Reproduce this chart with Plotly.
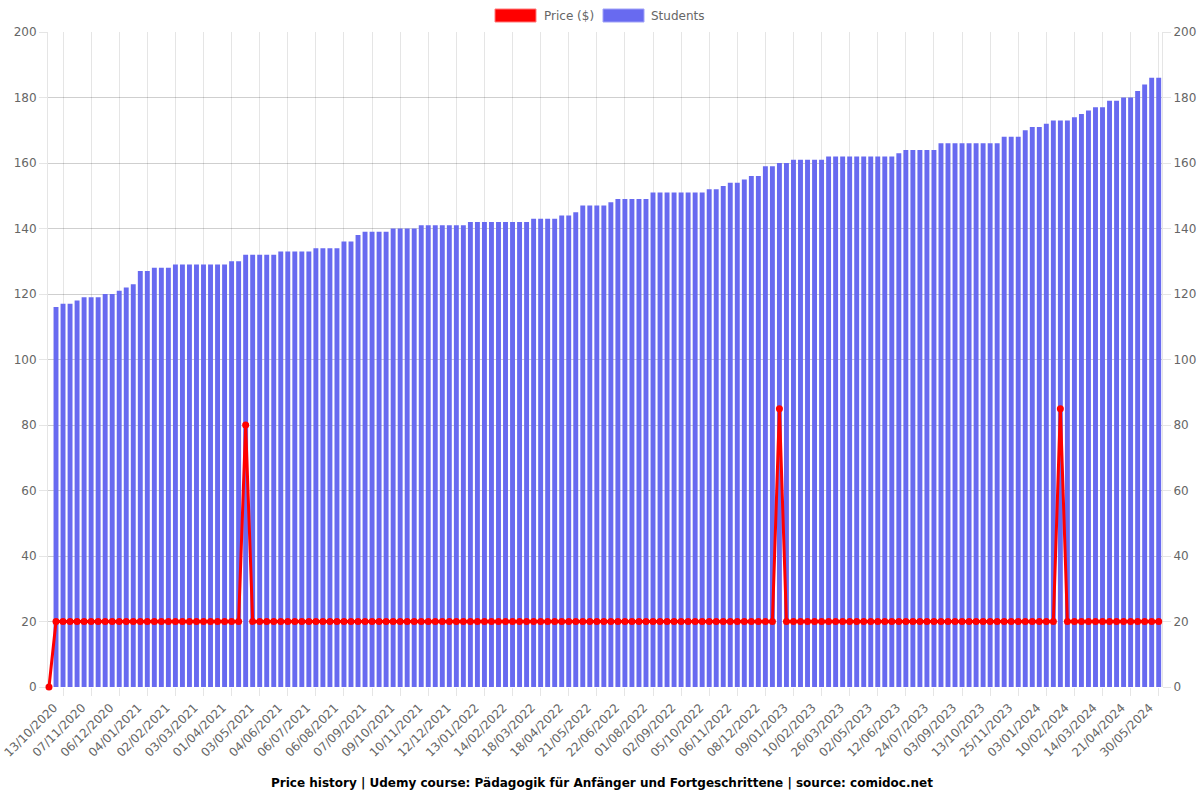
import plotly.graph_objects as go

# ---- data ----
tick_labels = [
    "13/10/2020", "07/11/2020", "06/12/2020", "04/01/2021", "02/02/2021",
    "03/03/2021", "01/04/2021", "03/05/2021", "04/06/2021", "06/07/2021",
    "06/08/2021", "07/09/2021", "09/10/2021", "10/11/2021", "12/12/2021",
    "13/01/2022", "14/02/2022", "18/03/2022", "18/04/2022", "21/05/2022",
    "22/06/2022", "01/08/2022", "02/09/2022", "05/10/2022", "06/11/2022",
    "08/12/2022", "09/01/2023", "10/02/2023", "26/03/2023", "02/05/2023",
    "12/06/2023", "24/07/2023", "03/09/2023", "13/10/2023", "25/11/2023",
    "03/01/2024", "10/02/2024", "14/03/2024", "21/04/2024", "30/05/2024",
]

students = [
    None, 116, 117, 117, 118, 119, 119, 119, 120, 120,
    121, 122, 123, 127, 127, 128, 128, 128, 129, 129,
    129, 129, 129, 129, 129, 129, 130, 130, 132, 132,
    132, 132, 132, 133, 133, 133, 133, 133, 134, 134,
    134, 134, 136, 136, 138, 139, 139, 139, 139, 140,
    140, 140, 140, 141, 141, 141, 141, 141, 141, 141,
    142, 142, 142, 142, 142, 142, 142, 142, 142, 143,
    143, 143, 143, 144, 144, 145, 147, 147, 147, 147,
    148, 149, 149, 149, 149, 149, 151, 151, 151, 151,
    151, 151, 151, 151, 152, 152, 153, 154, 154, 155,
    156, 156, 159, 159, 160, 160, 161, 161, 161, 161,
    161, 162, 162, 162, 162, 162, 162, 162, 162, 162,
    162, 163, 164, 164, 164, 164, 164, 166, 166, 166,
    166, 166, 166, 166, 166, 166, 168, 168, 168, 170,
    171, 171, 172, 173, 173, 173, 174, 175, 176, 177,
    177, 179, 179, 180, 180, 182, 184, 186, 186,
]

price = [
    0, 20, 20, 20, 20, 20, 20, 20, 20, 20,
    20, 20, 20, 20, 20, 20, 20, 20, 20, 20,
    20, 20, 20, 20, 20, 20, 20, 20, 80, 20,
    20, 20, 20, 20, 20, 20, 20, 20, 20, 20,
    20, 20, 20, 20, 20, 20, 20, 20, 20, 20,
    20, 20, 20, 20, 20, 20, 20, 20, 20, 20,
    20, 20, 20, 20, 20, 20, 20, 20, 20, 20,
    20, 20, 20, 20, 20, 20, 20, 20, 20, 20,
    20, 20, 20, 20, 20, 20, 20, 20, 20, 20,
    20, 20, 20, 20, 20, 20, 20, 20, 20, 20,
    20, 20, 20, 20, 85, 20, 20, 20, 20, 20,
    20, 20, 20, 20, 20, 20, 20, 20, 20, 20,
    20, 20, 20, 20, 20, 20, 20, 20, 20, 20,
    20, 20, 20, 20, 20, 20, 20, 20, 20, 20,
    20, 20, 20, 20, 85, 20, 20, 20, 20, 20,
    20, 20, 20, 20, 20, 20, 20, 20, 20,
]

y_ticks = [0, 20, 40, 60, 80, 100, 120, 140, 160, 180, 200]

title_text = "Price history | Udemy course: Pädagogik für Anfänger und Fortgeschrittene | source: comidoc.net"

# ---- figure ----
n = len(students)
x = list(range(n))
label_pos = list(range(0, n, 4))[:len(tick_labels)]
grid_pos = [p + 2 for p in label_pos]

BLUE = "rgb(104,106,240)"
RED = "rgb(255,0,0)"
FONT = "DejaVu Sans"

W, H = 1200, 800
ML, MR, MT, MB = 48, 38, 32, 113
PW, PH = W - ML - MR, H - MT - MB

fig = go.Figure()
fig.add_trace(go.Bar(
    x=x, y=students, name="Students", yaxis="y",
    marker=dict(color=BLUE, line=dict(width=0)),
    width=0.7, showlegend=False,
))
fig.add_trace(go.Scatter(
    x=x, y=price, name="Price ($)", yaxis="y2", mode="lines+markers",
    line=dict(color=RED, width=3),
    marker=dict(color=RED, size=7),
    showlegend=False, cliponaxis=False,
))

tickfont = dict(family=FONT, size=12, color="#666666")
fig.update_layout(
    width=W, height=H,
    margin=dict(l=ML, r=MR, t=MT, b=MB, pad=0, autoexpand=False),
    paper_bgcolor="white", plot_bgcolor="white",
    font=dict(family=FONT, size=12, color="#666666"),
    showlegend=False,
    xaxis=dict(
        range=[-0.14, 158.47], automargin=False,
        tickmode="array", tickvals=label_pos, ticktext=tick_labels,
        tickangle=-45, tickfont=tickfont, ticklabelshift=5,
        ticklabeloverflow="allow",
        ticks="outside", ticklen=8, tickcolor="rgba(0,0,0,0)",
        showgrid=False, zeroline=False,
        showline=False,
        minor=dict(tickmode="array", tickvals=grid_pos, showgrid=True,
                   gridcolor="rgba(0,0,0,0.1)", gridwidth=1,
                   ticks="outside", ticklen=8, tickcolor="rgba(0,0,0,0.1)"),
    ),
    yaxis=dict(
        range=[0, 200], tickmode="array", tickvals=y_ticks, automargin=False,
        tickfont=tickfont, ticks="outside", ticklen=8,
        tickcolor="rgba(0,0,0,0.1)",
        showgrid=True, gridcolor="rgba(0,0,0,0.19)", gridwidth=1,
        zeroline=False, showline=True, linecolor="rgba(0,0,0,0.1)", linewidth=1,
    ),
    yaxis2=dict(
        range=[0, 200], tickmode="array", tickvals=y_ticks, automargin=False,
        tickfont=tickfont, ticks="outside", ticklen=8,
        tickcolor="rgba(0,0,0,0.1)",
        overlaying="y", side="right", showgrid=False, zeroline=False,
        showline=True, linecolor="rgba(0,0,0,0.1)", linewidth=1,
    ),
)

# ---- legend drawn in Chart.js style ----
def px(xp):
    return (xp - ML) / PW

def py(yp):
    return (H - MB - yp) / PH

legend_items = [("Price ($)", RED, "rgba(255,120,120,1)", 495, 542),
                ("Students", BLUE, "rgba(160,162,248,1)", 603, 649)]
for name, fill, edge, bx, tx in legend_items:
    fig.add_shape(type="rect", xref="paper", yref="paper",
                  x0=px(bx), x1=px(bx + 41), y0=py(22), y1=py(9),
                  fillcolor=fill, line=dict(color=edge, width=1))
    fig.add_annotation(xref="paper", yref="paper", x=px(tx), y=py(16),
                       text=name, showarrow=False, xanchor="left", yanchor="middle",
                       font=dict(family=FONT, size=12, color="#666666"))

fig.add_annotation(xref="paper", yref="paper", x=px(W / 2 + 2),
                   y=py(783), text="<b>" + title_text + "</b>", showarrow=False,
                   xanchor="center", yanchor="middle",
                   font=dict(family=FONT, size=12, color="#000000"))

fig.write_html("out.html")
